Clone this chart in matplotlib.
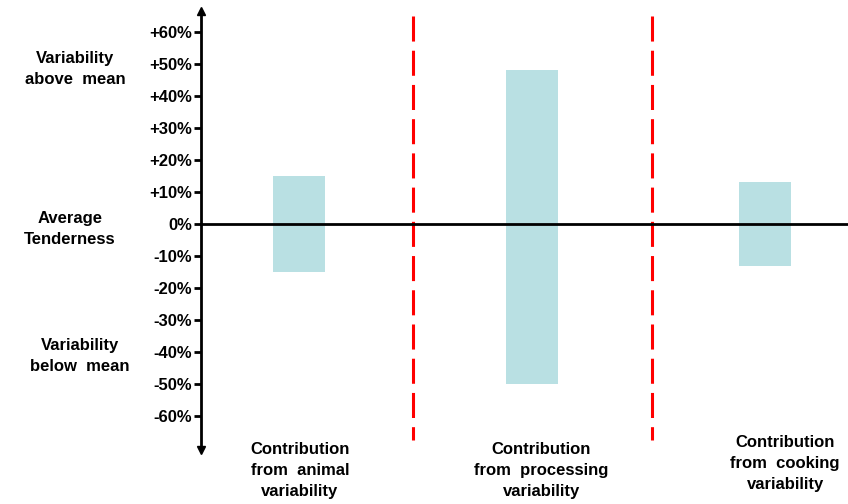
import matplotlib
matplotlib.use("Agg")
import matplotlib.pyplot as plt

categories = ["Contribution\nfrom  animal\nvariability",
              "Contribution\nfrom  processing\nvariability",
              "Contribution\nfrom  cooking\nvariability"]
upper = [15, 48, 13]
lower = [-15, -50, -13]
ticks = [-60, -50, -40, -30, -20, -10, 0, 10, 20, 30, 40, 50, 60]
tick_labels = ["-60%", "-50%", "-40%", "-30%", "-20%", "-10%", "0%",
               "+10%", "+20%", "+30%", "+40%", "+50%", "+60%"]
side_labels = ["Variability\nabove  mean", "Average\nTenderness", "Variability\nbelow  mean"]
side_label_y = [48.4, -1.6, -41.2]
side_label_x = [-0.961, -0.983, -0.94]

plt.rcParams['font.family'] = ['Liberation Sans', 'DejaVu Sans']

fig = plt.figure(figsize=(8.48, 5.04), dpi=100)
ax = fig.add_axes([0, 0, 1, 1])
ax.set_xlim(-1.283, 2.356)
ax.set_ylim(-87.5, 70)

x = list(range(len(categories)))
heights = [u - l for u, l in zip(upper, lower)]
ax.bar(x, heights, bottom=lower, width=0.225, color="#B9E0E3", zorder=2)

axis_x = -0.42
ax.axhline(0, xmin=(axis_x + 1.283) / 3.639, xmax=1, color="black", lw=2, zorder=3)

for d in [0.49, 1.515]:
    ax.plot([d, d], [65, -67.5], color="#FF0000", lw=2.2, dashes=(8.2, 3.0), zorder=1)

# y axis
for s in ["top", "right", "bottom"]:
    ax.spines[s].set_visible(False)
ax.spines["left"].set_position(("data", axis_x))
ax.spines["left"].set_linewidth(2)
ax.spines["left"].set_bounds(-70, 66)
ax.plot([axis_x], [66.5], marker="^", color="black", ms=6, clip_on=False)
ax.plot([axis_x], [-70.5], marker="v", color="black", ms=6, clip_on=False)
ax.set_yticks(ticks)
ax.set_yticklabels(tick_labels, fontsize=12, fontweight="bold")
ax.tick_params(axis="y", direction="out", length=5, width=2, pad=1.5)
ax.set_xticks([])

for lab, xx, yy in zip(side_labels, side_label_x, side_label_y):
    ax.text(xx, yy, lab, ha="center", va="center", fontsize=12,
            fontweight="bold", linespacing=1.5)

cat_y = [-76.9, -76.9, -74.7]
cat_x = [0.004, 1.039, 2.086]
for lab, xx, yy in zip(categories, cat_x, cat_y):
    ax.text(xx, yy, lab, ha="center", va="center", fontsize=12,
            fontweight="bold", linespacing=1.5)

fig.savefig("out.png", dpi=100)
